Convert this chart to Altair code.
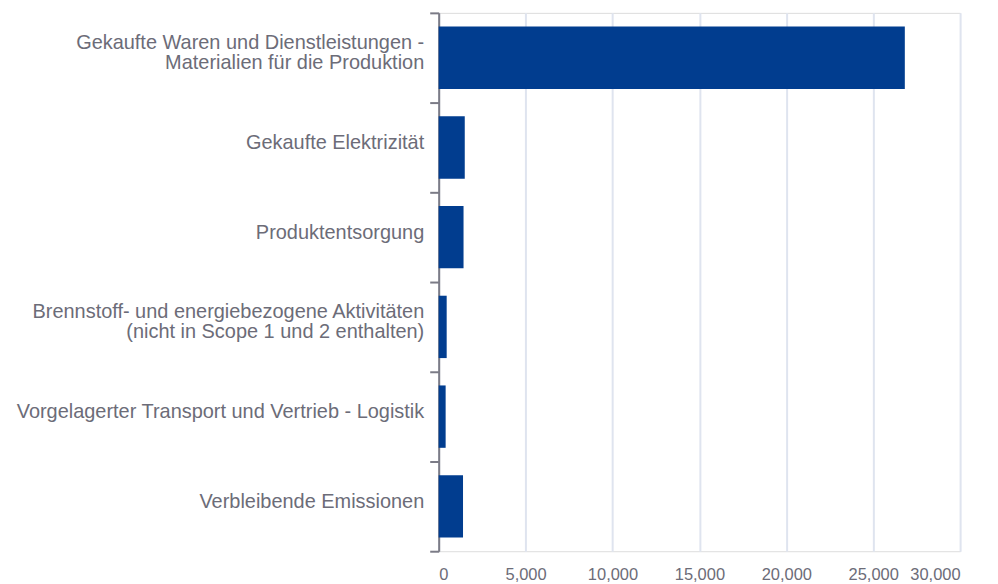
import altair as alt
import pandas as pd

categories = [
    "Gekaufte Waren und Dienstleistungen - \nMaterialien für die Produktion",
    "Gekaufte Elektrizität",
    "Produktentsorgung",
    "Brennstoff- und energiebezogene Aktivitäten \n(nicht in Scope 1 und 2 enthalten)",
    "Vorgelagerter Transport und Vertrieb - Logistik",
    "Verbleibende Emissionen",
]
values = [26820, 1500, 1430, 460, 400, 1400]

df = pd.DataFrame({"cat": categories, "val": values})

label_color = "#6c6c78"
axis_color = "#7b7b86"

chart = alt.Chart(df).mark_bar(color="#013d8f", height=alt.RelativeBandSize(0.695)).encode(
    y=alt.Y(
        "cat:N",
        sort=categories,
        title=None,
        scale=alt.Scale(paddingInner=0, paddingOuter=0),
        axis=alt.Axis(
            labelExpr="split(datum.label, '\\n')",
            labelFont="Liberation Sans",
            labelFontSize=20,
            labelColor=label_color,
            labelLineHeight=20,
            labelPadding=6,
            labelLimit=0,
            labelOffset={"expr": "indexof(datum.label, 'Produktion') >= 0 || indexof(datum.label, 'Scope') >= 0 ? -15 : -5"},
            tickBand="extent",
            tickColor=axis_color,
            tickWidth=2,
            tickSize=9,
            domainColor=axis_color,
            domainWidth=2,
            grid=False,
        ),
    ),
    x=alt.X(
        "val:Q",
        title=None,
        scale=alt.Scale(domain=[0, 30000], nice=False),
        axis=alt.Axis(
            values=[0, 5000, 10000, 15000, 20000, 25000, 30000],
            format=",.0f",
            labelFont="Liberation Sans",
            labelFontSize=16.5,
            labelColor=label_color,
            labelPadding=15,
            domain=False,
            ticks=False,
            grid=True,
            gridColor="#dfe4ef",
            gridWidth=2,
        ),
    ),
).properties(
    width=523,
    height=540,
    autosize=alt.AutoSizeParams(type="none"),
    padding={"top": 4, "left": 432, "right": 30, "bottom": 30},
).configure_view(stroke=None).configure(background="white")

chart.save("out.html", embed_options={"renderer": "svg", "actions": False})
